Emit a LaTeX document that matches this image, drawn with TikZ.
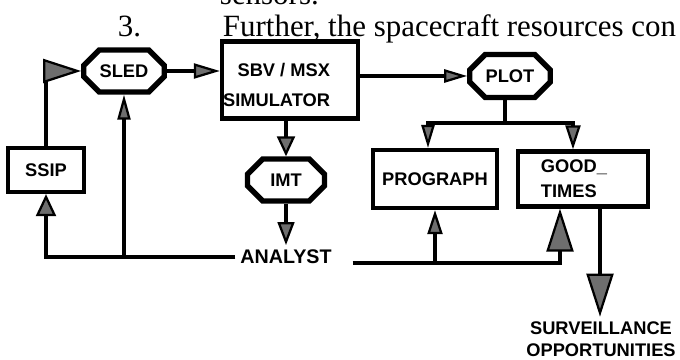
\documentclass[tikz,border=0pt]{standalone}
\usepackage{fontspec}
\setmainfont{Liberation Serif}
\newfontfamily\labelfont{Liberation Sans Bold}
\usepackage{tikz}
\usetikzlibrary{positioning, arrows.meta, shapes.misc, calc}
\definecolor{Stipple}{HTML}{6E6E6E}
\tikzset{
  boxtext/.style={font=\labelfont\fontsize{13}{21}\selectfont},
  block/.style={draw, line width=3pt, boxtext},
  octa/.style={block, chamfered rectangle, chamfered rectangle xsep=0.4cm, line width=3.8pt},
  link/.style={line width=2.6pt},
  head/.style 2 args={link, -{Triangle[length=#1, width=#2, fill=Stipple, line width=1.6pt]}},
}

\begin{document}
\begin{tikzpicture}[x=0.025cm, y=-0.025cm]
  \useasboundingbox (0,0) rectangle (680,360);
  \node[anchor=base west, font=\fontsize{22}{26}\selectfont] (prev) at (215,5) {sensors.};
  \node[anchor=base west, font=\fontsize{22}{26}\selectfont] (num) at (113,37) {3.};
  \node[anchor=base west, font=\fontsize{22}{26}\selectfont] (para) at (218,37) {Further, the spacecraft resources con};

  \node[block, minimum width=1.9cm, minimum height=1.1cm] (ssip) at (46,170) {SSIP};
  \node[octa, minimum width=1.95cm, minimum height=1.05cm] (sled) at (124,71) {SLED};
  \node[block, minimum width=3.4cm, minimum height=1.925cm] (sim) at (290,80) {};
  \node[boxtext, anchor=east, align=right] (simtext) at (335,85) {SBV / MSX\\SIMULATOR};
  \node[octa, minimum width=1.875cm, minimum height=1.075cm] (plot) at (510,76) {PLOT};
  \node[octa, minimum width=1.925cm, minimum height=1.05cm] (imt) at (286,180) {IMT};
  \node[block, minimum width=3.1cm, minimum height=1.45cm] (prog) at (435,179) {PROGRAPH};
  \node[block, minimum width=3.25cm, minimum height=1.375cm, align=left, text width=2.1cm,
        inner xsep=0.575cm, font=\labelfont\fontsize{13}{17.5}\selectfont] (good) at (583,179) {GOOD\_\\TIMES};
  \node[font=\labelfont\fontsize{14}{16}\selectfont] (analyst) at (286,257) {ANALYST};
  \node[align=center, font=\labelfont\fontsize{13}{15.5}\selectfont] (surv) at (601,339) {SURVEILLANCE\\OPPORTUNITIES};

  \coordinate (split) at (505,123);
  \coordinate (aright) at ([shift={(0.4cm,-0.15cm)}]analyst.east);

  \draw[head={0.95cm}{0.6cm}] (ssip.north) |- (sled.west);
  \draw[head={0.65cm}{0.375cm}] (sled.east) -- (sim.west |- sled.east);
  \draw[head={0.575cm}{0.33cm}] (sim.east |- plot.west) -- (plot.west);
  \draw[head={0.5cm}{0.45cm}] (imt.north |- sim.south) -- (imt.north);
  \draw[head={0.575cm}{0.42cm}] (imt.south) -- (analyst.north);
  \draw[link] (split |- plot.south) -- (split);
  \draw[head={0.575cm}{0.33cm}] (split) -| ([xshift=-0.175cm]prog.north);
  \draw[head={0.6cm}{0.375cm}] (split) -| ([xshift=-0.25cm]good.north);
  \draw[head={0.55cm}{0.5cm}] (analyst.west) -| (ssip.south);
  \draw[head={0.625cm}{0.325cm}] (analyst.west -| sled.south) -- (sled.south);
  \draw[head={0.6cm}{0.375cm}] (aright -| prog.south) -- (prog.south);
  \draw[head={1.075cm}{0.675cm}] (aright) -| ([xshift=-0.575cm]good.south);
  \draw[head={1.075cm}{0.675cm}] ([xshift=0.425cm]good.south) -- ([xshift=0.425cm]good.south |- surv.north);
\end{tikzpicture}
\end{document}
